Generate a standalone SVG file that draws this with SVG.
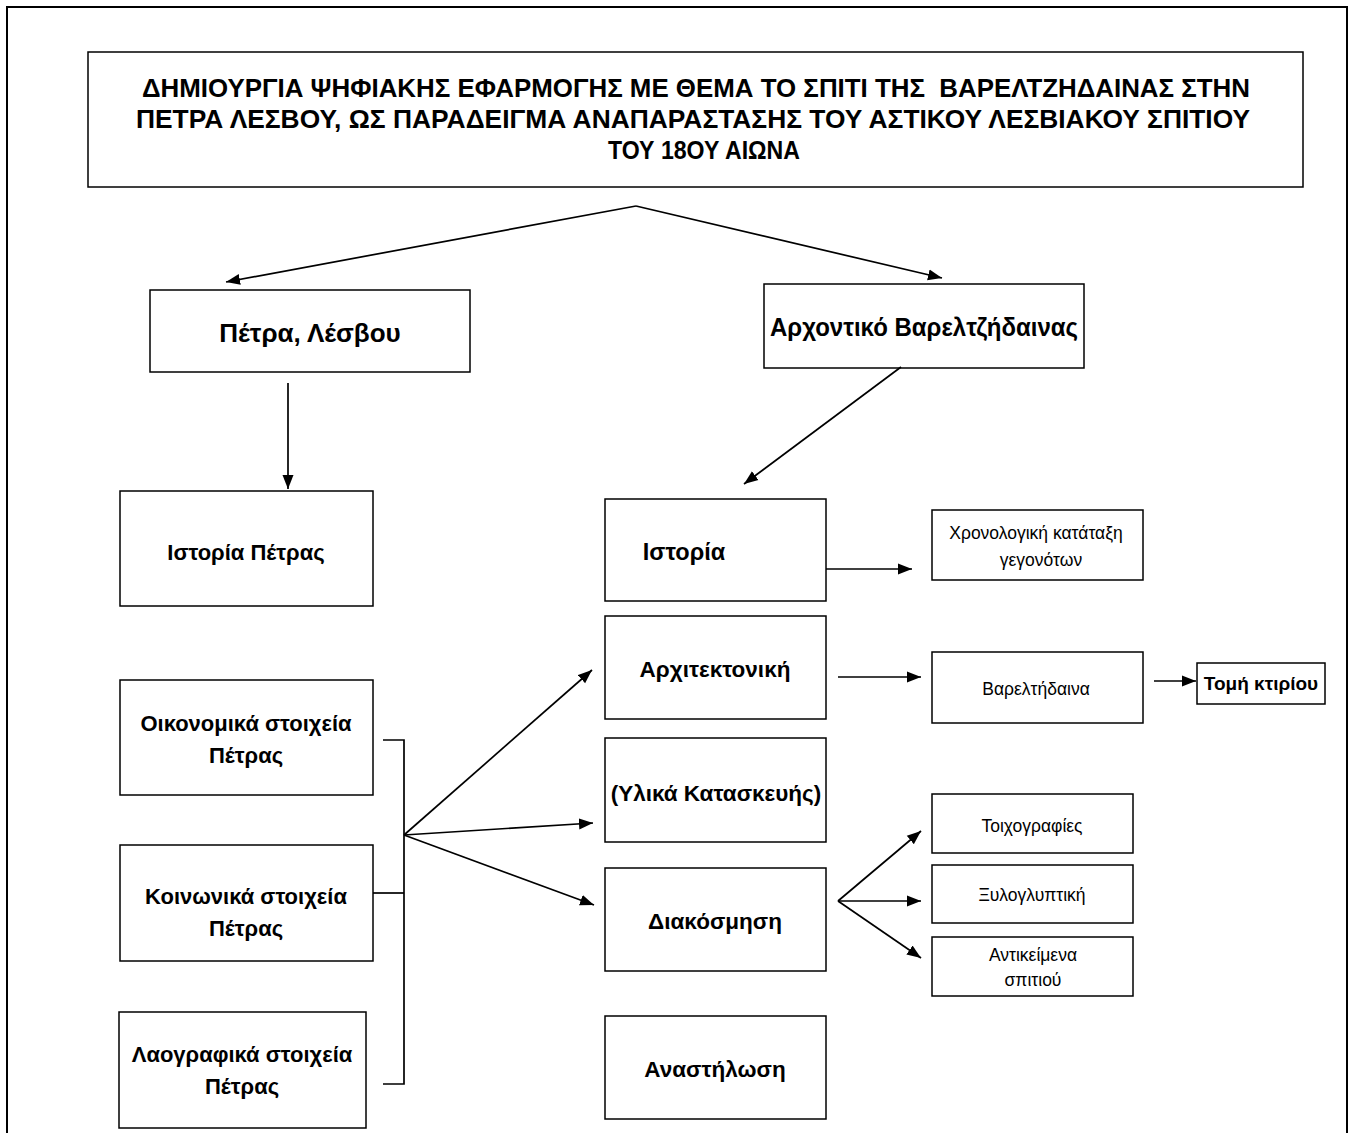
<svg xmlns="http://www.w3.org/2000/svg" width="1354" height="1133" viewBox="0 0 1354 1133">
<defs>
<marker id="ah" markerUnits="userSpaceOnUse" markerWidth="15" markerHeight="12" refX="14" refY="6" orient="auto">
<path d="M0,0.5 L14,6 L0,11.5 z" fill="#000"/>
</marker>
<style>
.box{fill:#fff;stroke:#000;stroke-width:1.5}
.c{stroke:#000;stroke-width:1.7;fill:none}
.a{marker-end:url(#ah)}
text{font-family:"Liberation Sans",Arial,sans-serif;fill:#000;text-anchor:middle}
.t{font-weight:bold;font-size:25px;white-space:pre}
.b{font-weight:bold;font-size:22px}
.bl{font-weight:bold;font-size:26px}
.r{font-size:17.5px}
</style>
</defs>
<rect width="1354" height="1133" fill="#fff"/>
<rect x="7" y="7" width="1340" height="1140" fill="none" stroke="#000" stroke-width="2"/>

<g id="title">
<rect class="box" x="88" y="52" width="1215" height="135"/>
<text class="t" x="696" y="97" textLength="1108" lengthAdjust="spacingAndGlyphs" xml:space="preserve">ΔΗΜΙΟΥΡΓΙΑ ΨΗΦΙΑΚΗΣ ΕΦΑΡΜΟΓΗΣ ΜΕ ΘΕΜΑ ΤΟ ΣΠΙΤΙ ΤΗΣ  ΒΑΡΕΛΤΖΗΔΑΙΝΑΣ ΣΤΗΝ</text>
<text class="t" x="693" y="128" textLength="1114" lengthAdjust="spacingAndGlyphs">ΠΕΤΡΑ ΛΕΣΒΟΥ, ΩΣ ΠΑΡΑΔΕΙΓΜΑ ΑΝΑΠΑΡΑΣΤΑΣΗΣ ΤΟΥ ΑΣΤΙΚΟΥ ΛΕΣΒΙΑΚΟΥ ΣΠΙΤΙΟΥ</text>
<text class="t" x="704" y="159" textLength="192" lengthAdjust="spacingAndGlyphs">ΤΟΥ 18ΟΥ ΑΙΩΝΑ</text>
</g>

<g id="petra">
<rect class="box" x="150" y="290" width="320" height="82"/>
<text class="bl" x="310" y="342">Πέτρα, Λέσβου</text>
</g>

<g id="archontiko">
<rect class="box" x="764" y="284" width="320" height="84"/>
<text class="bl" x="924" y="336" textLength="308" lengthAdjust="spacingAndGlyphs">Αρχοντικό Βαρελτζήδαινας</text>
</g>

<g id="istoria-petras">
<rect class="box" x="120" y="491" width="253" height="115"/>
<text class="b" x="246" y="560">Ιστορία Πέτρας</text>
</g>

<g id="oikonomika">
<rect class="box" x="120" y="680" width="253" height="115"/>
<text class="b" x="246" y="731">Οικονομικά στοιχεία</text>
<text class="b" x="246" y="763">Πέτρας</text>
</g>

<g id="koinonika">
<rect class="box" x="120" y="845" width="253" height="116"/>
<text class="b" x="246" y="904">Κοινωνικά στοιχεία</text>
<text class="b" x="246" y="936">Πέτρας</text>
</g>

<g id="laografika">
<rect class="box" x="119" y="1012" width="247" height="116"/>
<text class="b" x="242" y="1062">Λαογραφικά στοιχεία</text>
<text class="b" x="242" y="1094">Πέτρας</text>
</g>

<g id="istoria">
<rect class="box" x="605" y="499" width="221" height="102"/>
<text class="b" x="684" y="560" style="font-size:23.5px">Ιστορία</text>
</g>

<g id="chronologiki">
<rect class="box" x="932" y="510" width="211" height="70"/>
<text class="r" x="1036" y="539">Χρονολογική κατάταξη</text>
<text class="r" x="1041" y="566">γεγονότων</text>
</g>

<g id="architektoniki">
<rect class="box" x="605" y="616" width="221" height="103"/>
<text class="b" x="715" y="677" style="font-size:22.5px">Αρχιτεκτονική</text>
</g>

<g id="vareltidaina">
<rect class="box" x="932" y="652" width="211" height="71"/>
<text class="r" x="1036" y="695">Βαρελτήδαινα</text>
</g>

<g id="tomi">
<rect class="box" x="1197" y="663" width="128" height="41"/>
<text x="1261" y="690" style="font-weight:bold;font-size:19px">Τομή κτιρίου</text>
</g>

<g id="ylika">
<rect class="box" x="605" y="738" width="221" height="104"/>
<text class="b" x="716" y="801" style="font-size:22.5px">(Υλικά Κατασκευής)</text>
</g>

<g id="diakosmisi">
<rect class="box" x="605" y="868" width="221" height="103"/>
<text class="b" x="715" y="929" style="font-size:22.5px">Διακόσμηση</text>
</g>

<g id="anastilosi">
<rect class="box" x="605" y="1016" width="221" height="103"/>
<text class="b" x="715" y="1077" style="font-size:22.5px">Αναστήλωση</text>
</g>

<g id="toichografies">
<rect class="box" x="932" y="794" width="201" height="59"/>
<text class="r" x="1032" y="832">Τοιχογραφίες</text>
</g>

<g id="xylogluptiki">
<rect class="box" x="932" y="865" width="201" height="58"/>
<text class="r" x="1032" y="901">Ξυλογλυπτική</text>
</g>

<g id="antikeimena">
<rect class="box" x="932" y="937" width="201" height="59"/>
<text class="r" x="1033" y="961">Αντικείμενα</text>
<text class="r" x="1033" y="986">σπιτιού</text>
</g>

<g id="connectors">
<line class="c a" x1="636" y1="206" x2="226" y2="282"/>
<line class="c a" x1="636" y1="206" x2="942" y2="278"/>
<line class="c a" x1="288" y1="383" x2="288" y2="489"/>
<line class="c a" x1="901" y1="367" x2="744" y2="484"/>
<line class="c a" x1="826" y1="569" x2="912" y2="569"/>
<polyline class="c" points="383,740 404,740 404,1084 383,1084"/>
<line class="c" x1="373" y1="893" x2="404" y2="893"/>
<line class="c a" x1="404" y1="835" x2="592" y2="670"/>
<line class="c a" x1="404" y1="835" x2="593" y2="823"/>
<line class="c a" x1="404" y1="835" x2="594" y2="905"/>
<line class="c a" x1="838" y1="677" x2="921" y2="677"/>
<line class="c a" x1="1154" y1="681" x2="1196" y2="681"/>
<line class="c a" x1="838" y1="901" x2="921" y2="831"/>
<line class="c a" x1="838" y1="901" x2="921" y2="901"/>
<line class="c a" x1="838" y1="901" x2="921" y2="958"/>
</g>
</svg>
